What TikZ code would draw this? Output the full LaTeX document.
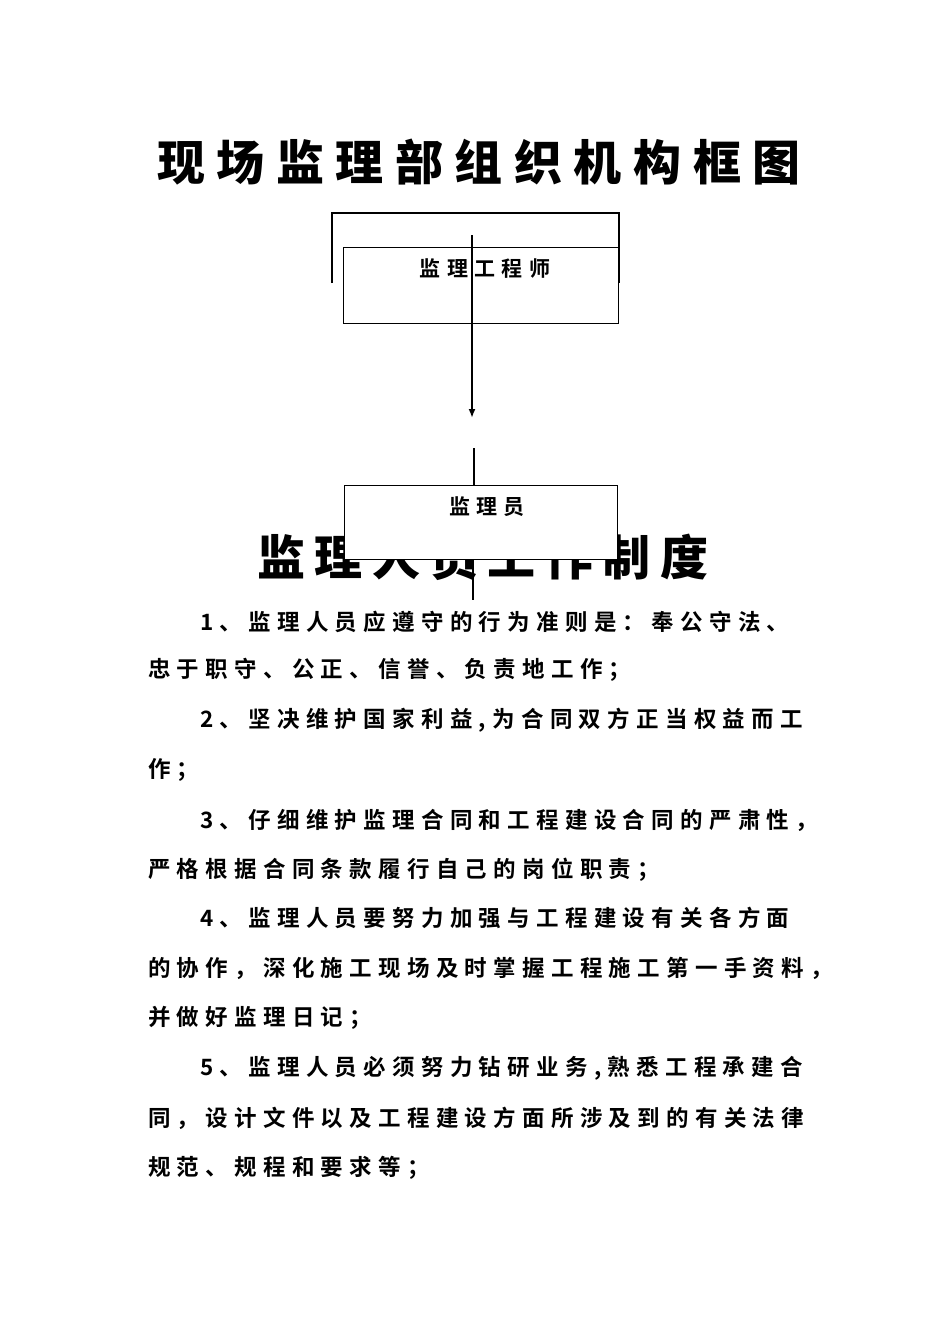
\documentclass[tikz,border=0pt]{standalone}
\usepackage{fontspec}
\usetikzlibrary{arrows.meta}
\setmainfont{Noto Sans CJK SC}[BoldFont={* Bold}]
\newfontfamily\tfont{Noto Sans CJK SC Black}[LetterSpace=24]
\newfontfamily\ttfontb{Noto Sans CJK SC Black}[LetterSpace=20]
\newfontfamily\bfont{Noto Sans CJK SC Bold}[LetterSpace=28]
\newfontfamily\lfont{Noto Sans CJK SC Bold}[LetterSpace=30]
\begin{document}
\begin{tikzpicture}[x=1pt,y=-1pt,
  ttl/.style={inner sep=0},
  bt/.style={font=\bfont\fontsize{22.5}{24}\selectfont,anchor=west,inner sep=0},
  bx/.style={draw,line width=1.3pt,fill=white},
  ln/.style={line width=1.8pt}]
\useasboundingbox (0,0) rectangle (950,1344);
\node[ttl,font=\tfont\fontsize{48}{50}\selectfont] (t1) at (479,162) {现场监理部组织机构框图};
\node[ttl,font=\ttfontb\fontsize{48}{50}\selectfont] (t2) at (483,557) {监理人员工作制度};
\draw[line width=1.3pt] (332,283) -- (332,213) -- (619,213) -- (619,283);
\node[bx,minimum width=275,minimum height=76,anchor=north west] (b1) at (343,247) {};
\node[font=\lfont\fontsize{21}{22}\selectfont] (l1) at (485,269) {监理工程师};
\coordinate (a0) at (472,235);
\coordinate (a1) at (472,418);
\draw[ln,-{Latex[length=9pt,width=7pt]}] (a0) -- (a1);
\coordinate (c0) at (474,448);
\node[bx,minimum width=273,minimum height=74,anchor=north west] (b2) at (344,485) {};
\node[font=\lfont\fontsize{21}{22}\selectfont] (l2) at (487,507) {监理员};
\coordinate (c1) at (473,600);
\draw[ln] (c0) -- (b2.north -| c0);
\draw[ln] (b2.south -| c1) -- (c1);
\node[bt] (p1) at (200,622) {1、监理人员应遵守的行为准则是：奉公守法、};
\node[bt] (p2) at (148,670) {忠于职守、公正、信誉、负责地工作；};
\node[bt] (p3) at (200,720) {2、坚决维护国家利益,为合同双方正当权益而工};
\node[bt] (p4) at (148,770) {作；};
\node[bt] (p5) at (200,820) {3、仔细维护监理合同和工程建设合同的严肃性，};
\node[bt] (p6) at (148,870) {严格根据合同条款履行自己的岗位职责；};
\node[bt] (p7) at (200,918) {4、监理人员要努力加强与工程建设有关各方面};
\node[bt] (p8) at (148,968) {的协作，深化施工现场及时掌握工程施工第一手资料，};
\node[bt] (p9) at (148,1018) {并做好监理日记；};
\node[bt] (p10) at (200,1068) {5、监理人员必须努力钻研业务,熟悉工程承建合};
\node[bt] (p11) at (148,1118) {同，设计文件以及工程建设方面所涉及到的有关法律};
\node[bt] (p12) at (148,1168) {规范、规程和要求等；};
\end{tikzpicture}
\end{document}
